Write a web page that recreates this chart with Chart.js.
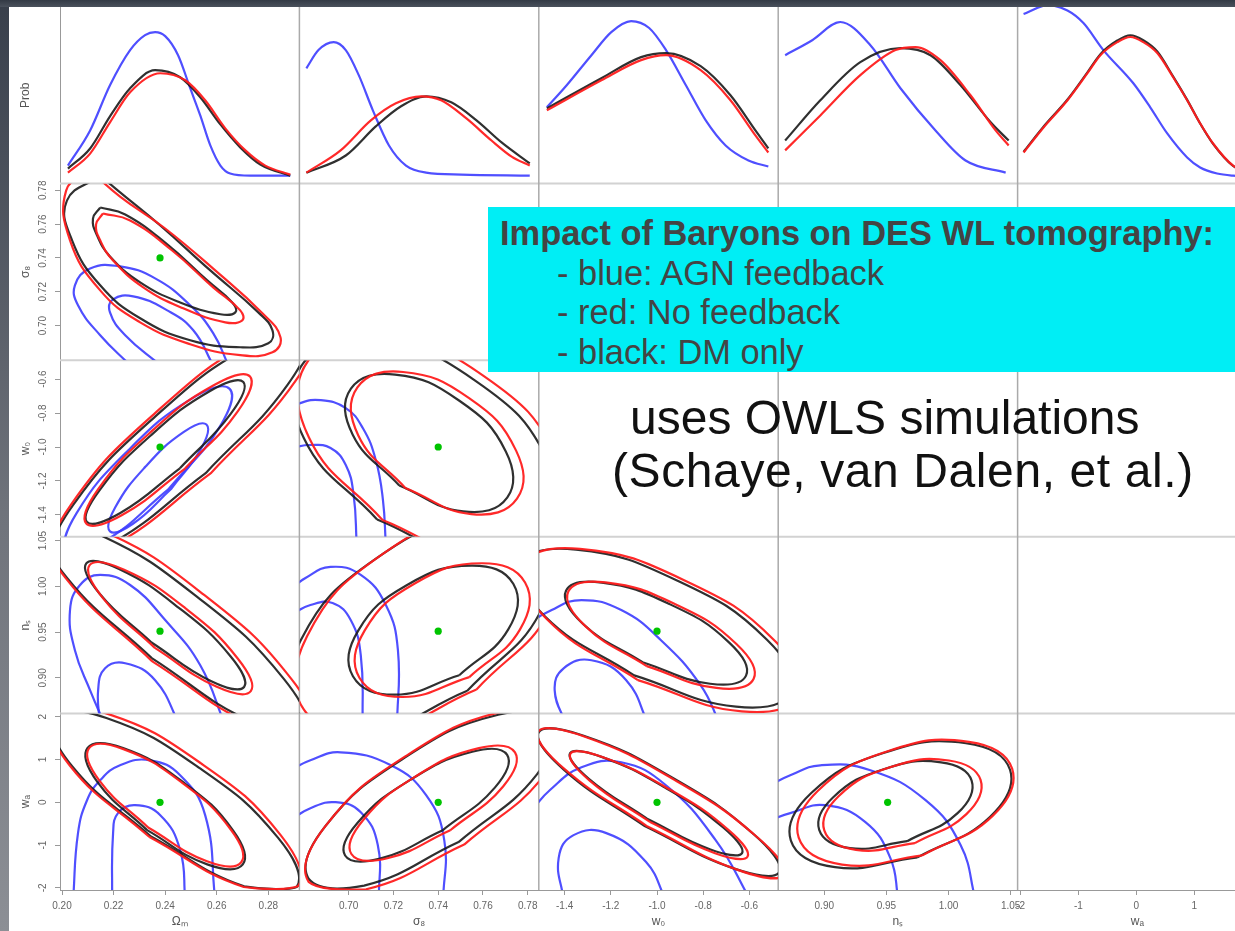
<!DOCTYPE html>
<html>
<head>
<meta charset="utf-8">
<title>Impact of Baryons on DES WL tomography</title>
<script src="https://cdn.jsdelivr.net/npm/chart.js@4.4.1/dist/chart.umd.min.js"></script>
<style>
  html, body { margin: 0; padding: 0; background: #fff; }
  body { position: relative; width: 1235px; height: 931px; overflow: hidden; font-family: 'Liberation Sans', Arial, sans-serif; }
  #plot { position: absolute; left: 0; top: 0; }
  .edge-left { position: absolute; left: 0; top: 0; width: 9px; height: 931px; background: linear-gradient(#383f4b, #6f737b 55%, #8c8f95); }
  .edge-top { position: absolute; left: 0; top: 0; width: 1235px; height: 7px; background: linear-gradient(#333a45, #4a515c); }
  .legend-box { position: absolute; left: 488px; top: 207px; width: 760px; height: 165px; box-sizing: border-box;
    padding: 7px 0 0 12px; background: #00eef5; color: #444; font-size: 34.4px; line-height: 39.5px; }
  .legend-box b { display: block; }
  .legend-box span { display: block; padding-left: 57px; }
  .note { position: absolute; font-size: 48px; line-height: 53px; color: #111; white-space: nowrap; }
</style>
</head>
<body>
<canvas id="plot" width="1262" height="931"></canvas>
<div class="edge-left"></div>
<div class="edge-top"></div>
<div class="legend-box">
  <b>Impact of Baryons on DES WL tomography:</b>
  <span>- blue: AGN feedback</span>
  <span>- red: No feedback</span>
  <span>- black: DM only</span>
</div>
<div class="note" style="left:630px; top:391px;">uses OWLS simulations</div>
<div class="note" style="left:612px; top:444px; letter-spacing:0.6px;">(Schaye, van Dalen, et al.)</div>
<script>
// axis ticks
const omTicks = [0.20, 0.22, 0.24, 0.26, 0.28];
const s8Ticks = [0.70, 0.72, 0.74, 0.76, 0.78];
const w0Ticks = [-1.4, -1.2, -1.0, -0.8, -0.6];
const nsTicks = [0.90, 0.95, 1.00, 1.05];
const waTicks = [-2, -1, 0, 1, 2];

// fiducial cosmology (green dot)
const fidOm = 0.238, fidS8 = 0.74, fidW0 = -1.0, fidNs = 0.951, fidWa = 0.0;

// 1D marginals (Prob row, scaled to panel height)
const omProbBlue = [[0.2023,0.102],[0.2109,0.301],[0.2186,0.557],[0.2264,0.756],[0.2322,0.841],[0.2361,0.858],[0.2400,0.835],[0.2450,0.727],[0.2497,0.540],[0.2536,0.386],[0.2575,0.216],[0.2614,0.102],[0.2652,0.057],[0.2730,0.045],[0.2885,0.045]];
const omProbRed = [[0.2023,0.062],[0.2109,0.170],[0.2186,0.347],[0.2264,0.517],[0.2381,0.625],[0.2478,0.585],[0.2555,0.472],[0.2633,0.313],[0.2711,0.188],[0.2788,0.102],[0.2885,0.051]];
const omProbBlack = [[0.2023,0.085],[0.2109,0.199],[0.2186,0.381],[0.2264,0.540],[0.2361,0.642],[0.2458,0.602],[0.2536,0.489],[0.2614,0.335],[0.2691,0.205],[0.2769,0.108],[0.2885,0.045]];

const s8ProbBlue = [[0.6811,0.653],[0.6865,0.756],[0.6933,0.801],[0.6987,0.756],[0.7045,0.614],[0.7108,0.415],[0.7180,0.216],[0.7256,0.102],[0.7346,0.062],[0.7503,0.051],[0.7809,0.045]];
const s8ProbRed = [[0.6811,0.062],[0.6964,0.188],[0.7099,0.358],[0.7211,0.455],[0.7324,0.494],[0.7413,0.472],[0.7526,0.369],[0.7638,0.244],[0.7728,0.153],[0.7809,0.102]];
const s8ProbBlack = [[0.6811,0.062],[0.6987,0.159],[0.7121,0.324],[0.7234,0.438],[0.7346,0.494],[0.7458,0.460],[0.7571,0.358],[0.7683,0.233],[0.7809,0.114]];

const w0ProbBlue = [[-1.477,0.432],[-1.391,0.557],[-1.284,0.727],[-1.198,0.858],[-1.112,0.920],[-1.034,0.881],[-0.961,0.756],[-0.875,0.557],[-0.789,0.358],[-0.703,0.216],[-0.604,0.131],[-0.518,0.097]];
const w0ProbRed = [[-1.477,0.415],[-1.241,0.585],[-1.069,0.699],[-0.961,0.727],[-0.811,0.642],[-0.682,0.472],[-0.574,0.273],[-0.518,0.176]];
const w0ProbBlack = [[-1.477,0.426],[-1.241,0.597],[-1.069,0.716],[-0.961,0.739],[-0.811,0.665],[-0.682,0.500],[-0.574,0.301],[-0.518,0.199]];

const nsProbBlue = [[0.8685,0.727],[0.8903,0.812],[0.9129,0.915],[0.9371,0.784],[0.9613,0.540],[0.9895,0.301],[1.0137,0.131],[1.0460,0.062]];
const nsProbRed = [[0.8685,0.188],[0.8968,0.386],[0.9290,0.614],[0.9573,0.756],[0.9734,0.773],[0.9935,0.699],[1.0177,0.500],[1.0379,0.301],[1.0484,0.216]];
const nsProbBlack = [[0.8685,0.244],[0.8968,0.472],[0.9290,0.688],[0.9613,0.767],[0.9855,0.727],[1.0097,0.557],[1.0339,0.347],[1.0484,0.244]];

const waProbBlue = [[-1.947,0.960],[-1.534,1.01],[-1.19,0.98],[-0.914,0.909],[-0.570,0.756],[-0.053,0.568],[0.239,0.432],[0.532,0.284],[0.876,0.148],[1.100,0.091],[1.392,0.057],[1.668,0.045],[2.08,0.040]];
const waProbRed = [[-1.947,0.176],[-1.603,0.318],[-1.189,0.472],[-0.845,0.625],[-0.621,0.727],[-0.329,0.801],[-0.105,0.830],[0.119,0.801],[0.360,0.739],[0.635,0.602],[0.876,0.472],[1.100,0.341],[1.323,0.227],[1.668,0.102],[2.08,0.045]];
const waProbBlack = [[-1.947,0.180],[-1.603,0.322],[-1.189,0.476],[-0.845,0.630],[-0.621,0.733],[-0.329,0.810],[-0.105,0.840],[0.119,0.812],[0.360,0.748],[0.635,0.606],[0.876,0.474],[1.100,0.340],[1.323,0.225],[1.668,0.100],[2.08,0.044]];

// 2D contours, sigma8 vs Omega_m (traced, already closed)
const omS8RedOuter = [[0.2109,0.7916],[0.2016,0.7798],[0.2031,0.7504],[0.2148,0.7208],[0.2303,0.7019],[0.2497,0.6890],[0.2691,0.6825],[0.2816,0.6842],[0.2847,0.6931],[0.2777,0.7073],[0.2594,0.7326],[0.2400,0.7574],[0.2225,0.7763],[0.2109,0.7916]];
const omS8BlackOuter = [[0.2148,0.7887],[0.2019,0.7739],[0.2039,0.7504],[0.2148,0.7238],[0.2303,0.7043],[0.2497,0.6913],[0.2691,0.6872],[0.2800,0.6896],[0.2816,0.6972],[0.2761,0.7078],[0.2575,0.7326],[0.2381,0.7592],[0.2217,0.7798],[0.2148,0.7887]];
const omS8BlackInner = [[0.2148,0.7698],[0.2120,0.7633],[0.2136,0.7533],[0.2186,0.7409],[0.2303,0.7255],[0.2458,0.7137],[0.2614,0.7067],[0.2672,0.7078],[0.2660,0.7137],[0.2563,0.7267],[0.2408,0.7480],[0.2245,0.7657],[0.2148,0.7698]];
const omS8RedInner = [[0.2159,0.7663],[0.2132,0.7598],[0.2148,0.7504],[0.2198,0.7385],[0.2315,0.7226],[0.2470,0.7102],[0.2633,0.7019],[0.2699,0.7031],[0.2691,0.7090],[0.2586,0.7226],[0.2427,0.7444],[0.2264,0.7621],[0.2159,0.7663]];
const omS8BlueOuter = [[0.2264,0.6766],[0.2148,0.6943],[0.2062,0.7120],[0.2050,0.7238],[0.2109,0.7338],[0.2225,0.7350],[0.2361,0.7279],[0.2497,0.7120],[0.2586,0.6955],[0.2645,0.6766]];
const omS8BlueInner = [[0.2381,0.6766],[0.2245,0.6943],[0.2186,0.7078],[0.2198,0.7155],[0.2276,0.7173],[0.2408,0.7090],[0.2509,0.6972],[0.2586,0.6766]];

// 2D contours traced as 8-point loops (ring() closes them); blue arcs are open
const omW0BlackOuter = [[0.2949,-0.3194],[0.2875,-0.6324],[0.2557,-1.1541],[0.2181,-1.5782],[0.1968,-1.6571],[0.2042,-1.3441],[0.2360,-0.8224],[0.2735,-0.3982]];
const omW0RedOuter = [[0.2978,-0.2841],[0.2904,-0.6135],[0.2576,-1.1559],[0.2186,-1.5924],[0.1962,-1.6688],[0.2035,-1.3394],[0.2363,-0.7971],[0.2754,-0.3606]];
const omW0BlackInner = [[0.2703,-0.6165],[0.2654,-0.8047],[0.2457,-1.1253],[0.2226,-1.3894],[0.2097,-1.4424],[0.2146,-1.2541],[0.2343,-0.9335],[0.2574,-0.6694]];
const omW0RedInner = [[0.2729,-0.5847],[0.2682,-0.7888],[0.2477,-1.1271],[0.2233,-1.4006],[0.2094,-1.4506],[0.2141,-1.2465],[0.2347,-0.9082],[0.2590,-0.6347]];
const omW0BlueOuter = [[0.2650,-0.6571],[0.2612,-0.8794],[0.2411,-1.2518],[0.2165,-1.5559],[0.2018,-1.6135],[0.2056,-1.3912],[0.2257,-1.0188],[0.2503,-0.7147]];
const omW0BlueInner = [[0.2560,-0.8676],[0.2540,-1.0076],[0.2422,-1.2494],[0.2275,-1.4524],[0.2186,-1.4971],[0.2206,-1.3571],[0.2324,-1.1153],[0.2471,-0.9124]];

const s8W0BlackOuter = [[0.7898,-1.5241],[0.7582,-1.6653],[0.7127,-1.4271],[0.6800,-0.9488],[0.6794,-0.5112],[0.7111,-0.3700],[0.7565,-0.6082],[0.7892,-1.0865]];
const s8W0RedOuter = [[0.7937,-1.5188],[0.7613,-1.6688],[0.7151,-1.4300],[0.6822,-0.9429],[0.6818,-0.4929],[0.7142,-0.3429],[0.7604,-0.5818],[0.7933,-1.0688]];
const s8W0BlackInner = [[0.7709,-1.2971],[0.7512,-1.3800],[0.7226,-1.2271],[0.7018,-0.9271],[0.7010,-0.6559],[0.7207,-0.5729],[0.7493,-0.7259],[0.7702,-1.0259]];
const s8W0RedInner = [[0.7752,-1.3041],[0.7548,-1.3953],[0.7253,-1.2412],[0.7043,-0.9318],[0.7039,-0.6488],[0.7243,-0.5576],[0.7538,-0.7118],[0.7748,-1.0212]];
const s8W0BlueOuter = [[0.6739,-0.7824],[0.6784,-0.7412],[0.6874,-0.7235],[0.6987,-0.7706],[0.7063,-0.8882],[0.7121,-1.0765],[0.7153,-1.3118],[0.7166,-1.5765]];
const s8W0BlueInner = [[0.6739,-1.0059],[0.6829,-0.9882],[0.6919,-1.0059],[0.6987,-1.1059],[0.7022,-1.2824],[0.7036,-1.5765]];

const omNsBlackOuter = [[0.2944,0.8429],[0.2732,0.8523],[0.2348,0.9215],[0.2018,1.0098],[0.1934,1.0657],[0.2146,1.0563],[0.2530,0.9871],[0.2860,0.8988]];
const omNsRedOuter = [[0.2971,0.8395],[0.2747,0.8475],[0.2350,0.9180],[0.2012,1.0098],[0.1930,1.0691],[0.2154,1.0611],[0.2551,0.9906],[0.2889,0.8988]];
const omNsBlackInner = [[0.2706,0.8900],[0.2579,0.8963],[0.2347,0.9386],[0.2146,0.9919],[0.2094,1.0251],[0.2221,1.0189],[0.2453,0.9765],[0.2654,0.9233]];
const omNsRedInner = [[0.2732,0.8854],[0.2598,0.8904],[0.2360,0.9327],[0.2157,0.9877],[0.2107,1.0231],[0.2241,1.0182],[0.2479,0.9759],[0.2682,0.9208]];
const omNsBlueOuter = [[0.2167,0.8479],[0.2109,0.8863],[0.2050,0.9302],[0.2031,0.9740],[0.2070,1.0014],[0.2148,1.0124],[0.2264,1.0014],[0.2400,0.9631],[0.2536,0.9137],[0.2633,0.8479]];
const omNsBlueInner = [[0.2148,0.8479],[0.2140,0.8863],[0.2167,0.9104],[0.2245,0.9159],[0.2361,0.8973],[0.2458,0.8479]];

const s8NsBlackOuter = [[0.7876,1.0520],[0.7860,0.9736],[0.7530,0.8858],[0.7079,0.8400],[0.6771,0.8632],[0.6787,0.9416],[0.7117,1.0294],[0.7568,1.0751]];
const s8NsRedOuter = [[0.7919,1.0565],[0.7905,0.9764],[0.7571,0.8872],[0.7114,0.8411],[0.6800,0.8653],[0.6814,0.9453],[0.7148,1.0346],[0.7605,1.0806]];
const s8NsBlackInner = [[0.7736,1.0025],[0.7713,0.9529],[0.7494,0.9028],[0.7207,0.8816],[0.7019,0.9017],[0.7042,0.9513],[0.7261,1.0014],[0.7548,1.0226]];
const s8NsRedInner = [[0.7788,1.0042],[0.7765,0.9526],[0.7539,0.9008],[0.7242,0.8790],[0.7048,0.9000],[0.7071,0.9515],[0.7297,1.0034],[0.7594,1.0252]];
const s8NsBlueOuter = [[0.6739,0.9960],[0.6807,1.0091],[0.6919,1.0212],[0.7054,1.0124],[0.7166,0.9795],[0.7220,0.9302],[0.7216,0.8479]];
const s8NsBlueInner = [[0.6739,0.9685],[0.6829,0.9795],[0.6928,0.9817],[0.7009,0.9631],[0.7054,0.9247],[0.7063,0.8479]];

const w0NsBlackOuter = [[-0.4198,0.8847],[-0.6581,0.8685],[-1.0989,0.9026],[-1.4847,0.9670],[-1.5888,1.0239],[-1.3505,1.0400],[-0.9097,1.0059],[-0.5239,0.9416]];
const w0NsRedOuter = [[-0.3867,0.8812],[-0.6323,0.8633],[-1.0830,0.8975],[-1.4753,0.9637],[-1.5789,1.0230],[-1.3333,1.0409],[-0.8826,1.0067],[-0.4903,0.9405]];
const w0NsBlackInner = [[-0.6146,0.9024],[-0.7699,0.8935],[-1.0624,0.9170],[-1.3213,0.9591],[-1.3940,0.9952],[-1.2387,1.0041],[-0.9462,0.9806],[-0.6873,0.9385]];
const w0NsRedInner = [[-0.5815,0.8989],[-0.7428,0.8889],[-1.0447,0.9128],[-1.3105,0.9565],[-1.3841,0.9943],[-1.2228,1.0043],[-0.9209,0.9804],[-0.6550,0.9367]];
const w0NsBlueOuter = [[-1.585,0.9192],[-1.5419,0.9576],[-1.4559,0.9740],[-1.3269,0.9850],[-1.1548,0.9740],[-0.9828,0.9411],[-0.8108,0.8918],[-0.7247,0.8479]];
const w0NsBlueInner = [[-1.3914,0.8479],[-1.4430,0.8863],[-1.4043,0.9104],[-1.2839,0.9192],[-1.1333,0.8973],[-1.0344,0.8479]];

const omWaRedOuter = [[0.2916,-1.9587],[0.2705,-1.9797],[0.2339,-0.8108],[0.2030,0.8621],[0.1962,2.0590],[0.2172,2.0800],[0.2539,0.9111],[0.2847,-0.7618]];
const omWaBlackOuter = [[0.2910,-1.9797],[0.2706,-1.9657],[0.2345,-0.7991],[0.2040,0.8387],[0.1968,1.9867],[0.2172,1.9727],[0.2532,0.8061],[0.2838,-0.8318]];
const omWaRedInner = [[0.2695,-1.4011],[0.2562,-1.3778],[0.2334,-0.5892],[0.2145,0.5074],[0.2105,1.2680],[0.2238,1.2447],[0.2466,0.4561],[0.2655,-0.6405]];
const omWaBlackInner = [[0.2701,-1.4524],[0.2563,-1.4501],[0.2330,-0.6498],[0.2137,0.4771],[0.2099,1.2727],[0.2237,1.2704],[0.2470,0.4701],[0.2663,-0.6568]];
const omWaBlueOuter = [[0.2043,-2.283],[0.2062,-0.72],[0.2097,0.05],[0.2148,0.5168],[0.2225,0.8667],[0.2342,0.9834],[0.2458,0.6334],[0.2555,-0.2998],[0.2594,-2.283]];
const omWaBlueInner = [[0.2194,-2.283],[0.2198,-0.72],[0.2217,-0.2531],[0.2283,-0.0665],[0.2381,-0.2998],[0.2458,-1.1164],[0.2478,-2.283]];

const s8WaBlackOuter = [[0.7916,1.8933],[0.7842,0.6614],[0.7491,-0.9298],[0.7069,-1.9471],[0.6822,-1.7931],[0.6895,-0.5612],[0.7246,1.0300],[0.7668,2.0473]];
const s8WaRedOuter = [[0.7952,1.9587],[0.7878,0.6637],[0.7516,-0.9881],[0.7078,-2.0334],[0.6821,-1.8584],[0.6895,-0.5635],[0.7257,1.0884],[0.7695,2.1337]];
const s8WaBlackInner = [[0.7708,1.1094],[0.7653,0.3441],[0.7418,-0.6592],[0.7140,-1.3171],[0.6984,-1.2425],[0.7040,-0.4772],[0.7275,0.5261],[0.7552,1.1841]];
const s8WaRedInner = [[0.7743,1.1677],[0.7690,0.3721],[0.7454,-0.6522],[0.7173,-1.3078],[0.7012,-1.2074],[0.7065,-0.4118],[0.7301,0.6124],[0.7582,1.2680]];
const s8WaBlueOuter = [[0.6739,0.7501],[0.6829,0.9834],[0.6964,1.1700],[0.7189,0.8667],[0.7346,0.1668],[0.7427,-0.8831],[0.7422,-2.283]];
const s8WaBlueInner = [[0.6739,-0.4165],[0.6829,-0.1365],[0.6942,0.0035],[0.7054,-0.2298],[0.7130,-0.9998],[0.7135,-2.283]];

const w0WaBlackOuter = [[-0.4701,-1.6298],[-0.6654,-1.5504],[-1.0516,-0.5612],[-1.4026,0.7594],[-1.5127,1.6367],[-1.3174,1.5574],[-0.9312,0.5681],[-0.5802,-0.7525]];
const w0WaRedOuter = [[-0.4503,-1.6881],[-0.6473,-1.5854],[-1.0409,-0.5658],[-1.4000,0.7757],[-1.5153,1.6484],[-1.3183,1.5457],[-0.9247,0.5261],[-0.5656,-0.8155]];
const w0WaBlackInner = [[-0.6318,-1.1865],[-0.7686,-1.1024],[-1.0430,-0.3838],[-1.2951,0.5494],[-1.3768,1.1467],[-1.2400,1.0627],[-0.9656,0.3441],[-0.7135,-0.5892]];
const w0WaRedInner = [[-0.6077,-1.2681],[-0.7488,-1.1888],[-1.0323,-0.4515],[-1.2916,0.5098],[-1.3751,1.1350],[-1.2340,1.0557],[-0.9505,0.3184],[-0.6912,-0.6428]];
const w0WaBlueOuter = [[-1.5419,-0.1832],[-1.4645,0.2834],[-1.3269,0.8201],[-1.1548,0.9367],[-0.9613,0.4001],[-0.7462,-0.8831],[-0.5957,-2.283]];
const w0WaBlueInner = [[-1.4043,-2.283],[-1.4258,-1.3031],[-1.3613,-0.7665],[-1.2194,-0.7198],[-1.0473,-1.3964],[-0.9613,-2.283]];

const nsWaBlackOuter = [[1.0495,0.7617],[1.0333,-0.3442],[0.9750,-1.2868],[0.9086,-1.5155],[0.8731,-0.8948],[0.8893,0.2111],[0.9476,1.1537],[1.0140,1.3824]];
const nsWaRedOuter = [[1.0512,0.7874],[1.0357,-0.3115],[0.9790,-1.2401],[0.9143,-1.4548],[0.8794,-0.8271],[0.8949,0.2718],[0.9516,1.2004],[1.0164,1.4150]];
const nsWaBlackInner = [[1.0186,0.5097],[1.0073,-0.2532],[0.9667,-0.9088],[0.9206,-1.0698],[0.8959,-0.6428],[0.9072,0.1201],[0.9478,0.7757],[0.9940,0.9367]];
const nsWaRedInner = [[1.0258,0.5238],[1.0144,-0.2765],[0.9729,-0.9531],[0.9255,-1.1118],[0.9000,-0.6568],[0.9115,0.1435],[0.9529,0.8201],[1.0003,0.9787]];
const nsWaBlueOuter = [[0.8565,0.4001],[0.8726,0.6334],[0.8968,0.8667],[0.9371,0.7501],[0.9815,0.0500],[1.0097,-0.9998],[1.0218,-2.283]];
const nsWaBlueInner = [[0.8565,-0.4165],[0.8726,-0.2532],[0.9008,-0.0665],[0.9331,-0.4632],[0.9532,-1.3031],[0.9597,-2.283]];

const BLUE = 'rgba(60,60,255,0.9)';
const RED = 'rgba(255,30,30,0.95)';
const BLACK = 'rgba(25,25,25,0.9)';
const GREEN = '#00c400';

// start an 8-point loop on its flank and close it
const ring = p => [...p.slice(2), ...p.slice(0, 3)];

const panels = [
  { x: 'xOm', y: 'yProb', red: [omProbRed], black: [omProbBlack], blue: [omProbBlue] },
  { x: 'xS8', y: 'yProb', red: [s8ProbRed], black: [s8ProbBlack], blue: [s8ProbBlue] },
  { x: 'xW0', y: 'yProb', red: [w0ProbRed], black: [w0ProbBlack], blue: [w0ProbBlue] },
  { x: 'xNs', y: 'yProb', red: [nsProbRed], black: [nsProbBlack], blue: [nsProbBlue] },
  { x: 'xWa', y: 'yProb', red: [waProbRed], black: [waProbBlack], blue: [waProbBlue] },
  { x: 'xOm', y: 'yS8', red: [omS8RedOuter, omS8RedInner], black: [omS8BlackOuter, omS8BlackInner],
    blue: [omS8BlueOuter, omS8BlueInner], dot: [fidOm, fidS8] },
  { x: 'xOm', y: 'yW0', red: [ring(omW0RedOuter), ring(omW0RedInner)], black: [ring(omW0BlackOuter), ring(omW0BlackInner)],
    blue: [ring(omW0BlueOuter), ring(omW0BlueInner)], dot: [fidOm, fidW0] },
  { x: 'xS8', y: 'yW0', red: [ring(s8W0RedOuter), ring(s8W0RedInner)], black: [ring(s8W0BlackOuter), ring(s8W0BlackInner)],
    blue: [s8W0BlueOuter, s8W0BlueInner], dot: [fidS8, fidW0] },
  { x: 'xOm', y: 'yNs', red: [ring(omNsRedOuter), ring(omNsRedInner)], black: [ring(omNsBlackOuter), ring(omNsBlackInner)],
    blue: [omNsBlueOuter, omNsBlueInner], dot: [fidOm, fidNs] },
  { x: 'xS8', y: 'yNs', red: [ring(s8NsRedOuter), ring(s8NsRedInner)], black: [ring(s8NsBlackOuter), ring(s8NsBlackInner)],
    blue: [s8NsBlueOuter, s8NsBlueInner], dot: [fidS8, fidNs] },
  { x: 'xW0', y: 'yNs', red: [ring(w0NsRedOuter), ring(w0NsRedInner)], black: [ring(w0NsBlackOuter), ring(w0NsBlackInner)],
    blue: [w0NsBlueOuter, w0NsBlueInner], dot: [fidW0, fidNs] },
  { x: 'xOm', y: 'yWa', red: [ring(omWaRedOuter), ring(omWaRedInner)], black: [ring(omWaBlackOuter), ring(omWaBlackInner)],
    blue: [omWaBlueOuter, omWaBlueInner], dot: [fidOm, fidWa] },
  { x: 'xS8', y: 'yWa', red: [ring(s8WaRedOuter), ring(s8WaRedInner)], black: [ring(s8WaBlackOuter), ring(s8WaBlackInner)],
    blue: [s8WaBlueOuter, s8WaBlueInner], dot: [fidS8, fidWa] },
  { x: 'xW0', y: 'yWa', red: [ring(w0WaRedOuter), ring(w0WaRedInner)], black: [ring(w0WaBlackOuter), ring(w0WaBlackInner)],
    blue: [w0WaBlueOuter, w0WaBlueInner], dot: [fidW0, fidWa] },
  { x: 'xNs', y: 'yWa', red: [ring(nsWaRedOuter), ring(nsWaRedInner)], black: [ring(nsWaBlackOuter), ring(nsWaBlackInner)],
    blue: [nsWaBlueOuter, nsWaBlueInner], dot: [fidNs, fidWa] }
];

function line(data, color, xId, yId, smooth1d) {
  return {
    data, xAxisID: xId, yAxisID: yId, showLine: true,
    borderColor: color, borderWidth: 2.2, pointRadius: 0, fill: false,
    tension: smooth1d ? 0 : 0.45, cubicInterpolationMode: smooth1d ? 'monotone' : 'default'
  };
}

// first dataset is painted last (on top)
const dots = [], reds = [], blacks = [], blues = [];
panels.forEach(p => {
  const is1d = p.y === 'yProb';
  if (p.dot) dots.push({ data: [p.dot], xAxisID: p.x, yAxisID: p.y, pointRadius: 3.6, pointBackgroundColor: GREEN, pointBorderWidth: 0, showLine: false });
  p.red.forEach(d => reds.push(line(d, RED, p.x, p.y, is1d)));
  p.black.forEach(d => blacks.push(line(d, BLACK, p.x, p.y, is1d)));
  p.blue.forEach(d => blues.push(line(d, BLUE, p.x, p.y, is1d)));
});
const datasets = [...dots, ...reds, ...blacks, ...blues];

const tickFont = { size: 10 };
function xAxis(min, max, ticks, digits, title) {
  return {
    type: 'linear', axis: 'x', position: 'bottom', stack: 'cols', stackWeight: 1, min, max,
    afterBuildTicks: s => { s.ticks = ticks.map(v => ({ value: v })); },
    afterFit: s => { s.height = 41; s.paddingLeft = 0; s.paddingRight = 0; },
    ticks: { callback: v => v.toFixed(digits), font: tickFont, color: '#666', padding: 5, autoSkip: false, maxRotation: 0 },
    grid: { drawOnChartArea: false, drawTicks: true, tickLength: 5, color: '#999' },
    border: { display: true, color: '#999', width: 1 },
    title: { display: true, text: title, font: { size: 12 }, color: '#555', padding: { top: 0, bottom: 2 } }
  };
}
function yAxis(min, max, ticks, digits, title, pad) {
  return {
    type: 'linear', axis: 'y', position: 'left', stack: 'rows', stackWeight: 1, min, max,
    afterBuildTicks: s => { s.ticks = ticks.map(v => ({ value: v })); },
    afterFit: s => { s.width = 60; s.paddingTop = 0; s.paddingBottom = 0; },
    ticks: { display: ticks.length > 0, callback: v => v.toFixed(digits), font: tickFont, color: '#666', padding: pad,
      minRotation: 90, maxRotation: 90, crossAlign: 'center', autoSkip: false },
    grid: { drawOnChartArea: false, drawTicks: ticks.length > 0, tickLength: 5, color: '#999' },
    border: { display: true, color: '#999', width: 1 },
    title: { display: true, text: title, font: { size: 12 }, color: '#555', padding: { top: 18, bottom: 0 } }
  };
}

const scales = {
  xOm: xAxis(0.19922, 0.29204, omTicks, 2, 'Ωₘ'),
  xS8: xAxis(0.67798, 0.78494, s8Ticks, 2, 'σ₈'),
  xW0: xAxis(-1.5118, -0.4753, w0Ticks, 1, 'w₀'),
  xNs: xAxis(0.8629, 1.0556, nsTicks, 2, 'nₛ'),
  xWa: xAxis(-2.05, 2.081, waTicks, 0, 'wₐ'),
  yWa: yAxis(-2.05, 2.08, waTicks, 0, 'wₐ', 7),
  yNs: yAxis(0.8611, 1.0541, nsTicks, 2, 'nₛ', 2.5),
  yW0: yAxis(-1.5294, -0.4882, w0Ticks, 1, 'w₀', 3.5),
  yS8: yAxis(0.67953, 0.78395, s8Ticks, 2, 'σ₈', 2.5),
  yProb: yAxis(0, 1, [], 0, 'Prob', 2)
};

// clip every curve to its own panel
const panelClip = {
  id: 'panelClip',
  beforeDatasetDraw(chart, args) {
    const xs = args.meta.xScale, ys = args.meta.yScale, ctx = chart.ctx;
    ctx.save();
    ctx.beginPath();
    ctx.rect(xs.left, ys.top, xs.right - xs.left, ys.bottom - ys.top);
    ctx.clip();
  },
  afterDatasetDraw(chart) { chart.ctx.restore(); }
};

// light separators between the panels
const panelLines = {
  id: 'panelLines',
  beforeDatasetsDraw(chart) {
    const { ctx, chartArea } = chart;
    ctx.save();
    ctx.strokeStyle = '#d2d2d2';
    ctx.lineWidth = 2;
    ['yS8', 'yW0', 'yNs', 'yWa'].forEach(id => {
      const y = chart.scales[id].top;
      ctx.beginPath(); ctx.moveTo(chartArea.left, y); ctx.lineTo(chartArea.right, y); ctx.stroke();
    });
    ctx.strokeStyle = '#aaaaaa';
    ctx.lineWidth = 1.5;
    ['xOm', 'xS8', 'xW0', 'xNs'].forEach(id => {
      const x = chart.scales[id].right;
      ctx.beginPath(); ctx.moveTo(x, chartArea.top); ctx.lineTo(x, chartArea.bottom); ctx.stroke();
    });
    ctx.restore();
  }
};

Chart.defaults.font.family = "'Liberation Sans', Arial, sans-serif";

new Chart(document.getElementById('plot'), {
  type: 'scatter',
  data: { datasets },
  options: {
    responsive: false,
    animation: false,
    events: [],
    layout: { padding: { left: 0, top: 7, right: 5, bottom: 0 } },
    plugins: { legend: { display: false }, tooltip: { enabled: false } },
    scales
  },
  plugins: [panelClip, panelLines]
});
</script>
</body>
</html>
